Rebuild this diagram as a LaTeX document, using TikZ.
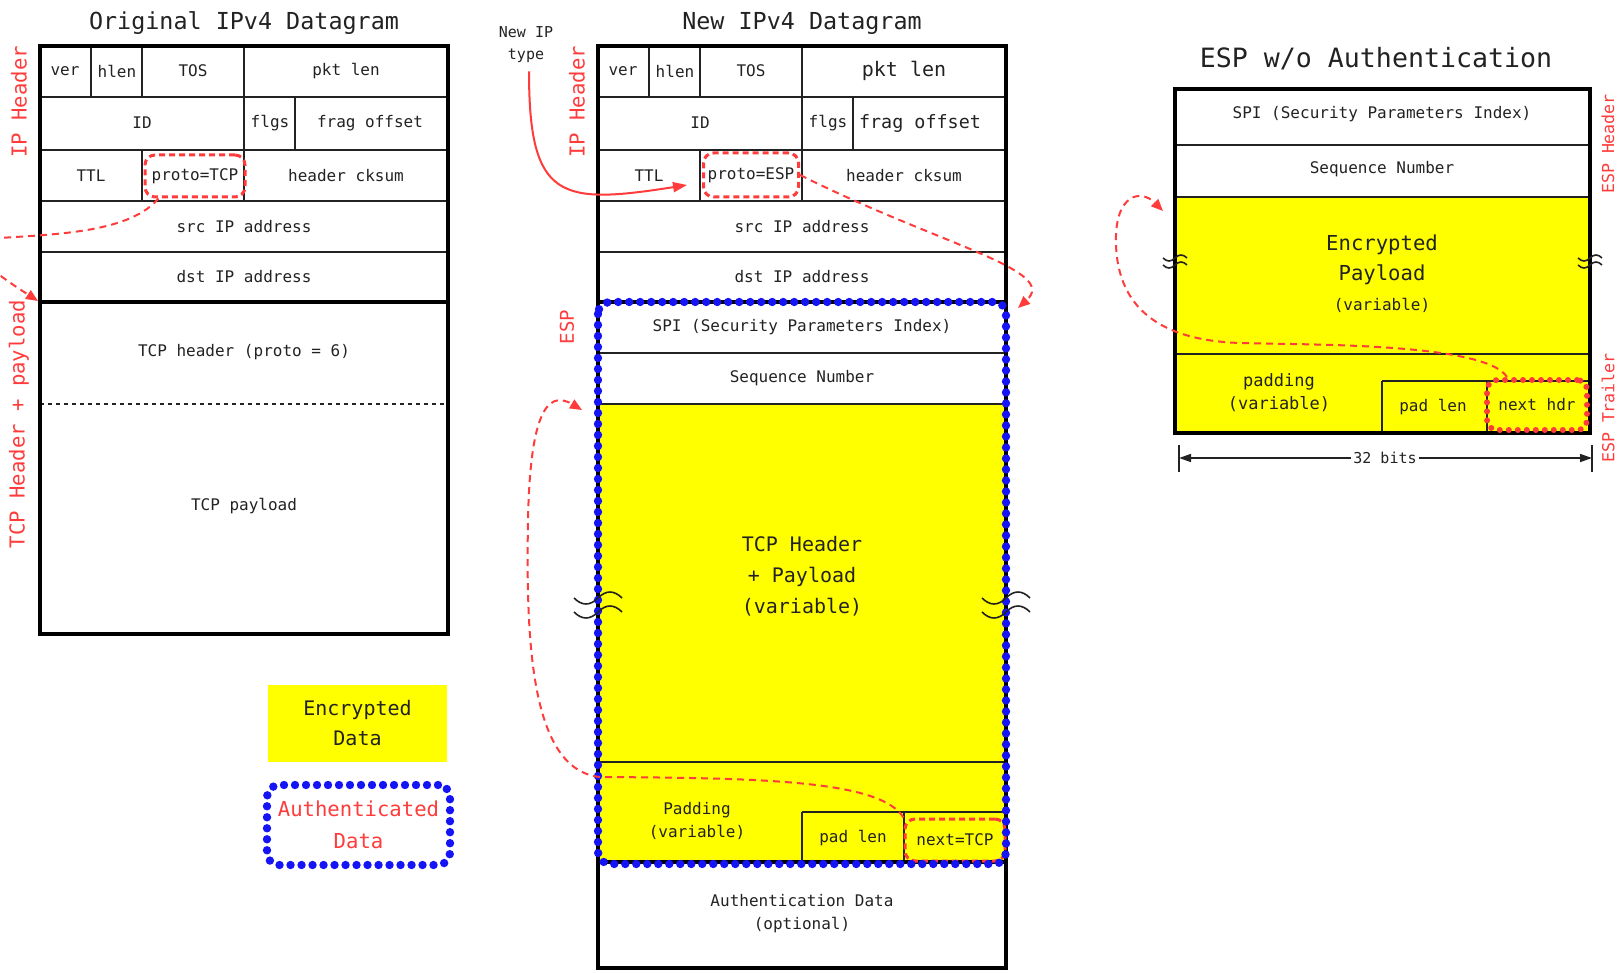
\documentclass[tikz,border=0pt]{standalone}
\usepackage{fontspec}
\setmonofont{DejaVu Sans Mono}
\usepackage{tikz}
\usetikzlibrary{arrows.meta,calc}
\definecolor{encyel}{HTML}{FFFF00}
\definecolor{authblue}{HTML}{1414F5}
\definecolor{markred}{HTML}{FF3B3B}
\definecolor{ink}{HTML}{222222}
\tikzset{
  field/.style    = {font=\ttfamily\fontsize{8}{11.5}\selectfont, text=ink, align=center, inner sep=0pt},
  bigfield/.style = {font=\ttfamily\fontsize{10}{15.5}\selectfont, text=ink, align=center, inner sep=0pt},
  ttl/.style      = {font=\ttfamily\fontsize{11.7}{14}\selectfont, text=ink, inner sep=0pt},
  side/.style     = {font=\ttfamily\fontsize{10.3}{12}\selectfont, text=markred, rotate=90, inner sep=0pt},
  frame/.style    = {draw=black, line width=2.2pt},
  sep/.style      = {draw=ink, line width=1pt},
  protobox/.style = {draw=markred, line width=1.5pt, dash pattern=on 3pt off 2pt, rounded corners=5pt},
  reddots/.style  = {draw=markred, line width=3pt, line cap=round, dash pattern=on 0pt off 4.5pt, rounded corners=5pt},
  authdots/.style = {draw=authblue, line width=4.2pt, line cap=round, dash pattern=on 0pt off 5.5pt, rounded corners=6pt},
  link/.style     = {draw=markred, line width=1pt, dash pattern=on 3.5pt off 2.5pt, -{Triangle[length=6pt,width=5pt]}},
  redarrow/.style = {draw=markred, line width=1pt, -{Triangle[length=7pt,width=5pt]}},
  squig/.style    = {draw=ink, line width=0.8pt},
}

\begin{document}
\begin{tikzpicture}[x=0.5pt, y=-0.5pt]
  \useasboundingbox (0,0) rectangle (1623,973);

  \node[ttl] (t-orig) at (244,23) {Original IPv4 Datagram};
  \node[ttl] (t-new) at (802,23) {New IPv4 Datagram};
  \node[ttl, font=\ttfamily\fontsize{13.3}{15}\selectfont] (t-esp) at (1376,59) {ESP w/o Authentication};

  % encrypted parts
  \fill[encyel] (598,404) rectangle (1006,862);
  \fill[encyel] (1175,197) rectangle (1590,433);

  % IP header, old and new datagram
  \foreach \ox/\hf/\bx/\fx/\fz in {0/field/o/370/8, 558/bigfield/n/362/9.2} {
    \foreach \y in {97,150,201,252} \draw[sep] ({40+\ox},\y) -- ({448+\ox},\y);
    \foreach \vx/\ya/\yb in {91/46/97, 142/46/97, 244/46/97, 244/97/150, 295/97/150, 142/150/201, 244/150/201}
      \draw[sep] ({\vx+\ox},\ya) -- ({\vx+\ox},\yb);
    \draw[frame] ({40+\ox},302) -- ({448+\ox},302);
    \node[field] (\bx-ver) at ({65+\ox},71) {ver};
    \node[field] (\bx-hlen) at ({117+\ox},71) {hlen};
    \node[field] (\bx-tos) at ({193+\ox},71) {TOS};
    \node[\hf] (\bx-len) at ({346+\ox},71) {pkt len};
    \node[field] (\bx-id) at ({142+\ox},123) {ID};
    \node[field] (\bx-flg) at ({270+\ox},123) {flgs};
    \node[field, font=\ttfamily\fontsize{\fz}{12}\selectfont] (\bx-frag) at ({\fx+\ox},123) {frag offset};
    \node[field] (\bx-ttl) at ({91+\ox},176) {TTL};
    \node[field] (\bx-sum) at ({346+\ox},176) {header cksum};
    \node[field] (\bx-src) at ({244+\ox},227) {src IP address};
    \node[field] (\bx-dst) at ({244+\ox},277) {dst IP address};
    \node[side] (\bx-iphdr) at ({19+\ox},102) {IP Header};
  }

  % original datagram
  \draw[sep, line width=0.6pt, dash pattern=on 2pt off 2pt] (40,404) -- (448,404);
  \node[field] (o-tcph) at (244,352) {TCP header (proto = 6)};
  \node[field] (o-tcpp) at (244,506) {TCP payload};
  \node[side] (o-tcplbl) at (19,424) {TCP Header + payload};
  \draw[frame] (40,46) rectangle (448,634);
  \node[field, protobox, minimum width=50pt, minimum height=21pt] (ptcp) at (195,176) {proto=TCP};

  % new datagram, ESP part
  \foreach \y in {353,404,762} \draw[sep] (598,\y) -- (1006,\y);
  \draw[sep] (802,812) -- (1006,812);
  \foreach \vx in {802,904} \draw[sep] (\vx,812) -- (\vx,862);
  \draw[frame] (598,862) -- (1006,862);
  \draw[frame] (598,46) rectangle (1006,968);
  \node[field] (n-spi) at (802,327) {SPI (Security Parameters Index)};
  \node[field] (n-seq) at (802,378) {Sequence Number};
  \node[bigfield] (n-pay) at (802,576) {TCP Header\\+ Payload\\(variable)};
  \node[field] (n-pad) at (697,821) {Padding\\(variable)};
  \node[field] (n-padlen) at (853,838) {pad len};
  \node[field, protobox, minimum width=50pt, minimum height=21pt] (ntcp) at (955,840) {next=TCP};
  \node[field] (n-auth) at (802,914) {Authentication Data\\(optional)};
  \node[side, font=\ttfamily\fontsize{9.5}{11}\selectfont] (n-esplbl) at (567,327) {ESP};
  \node[field, protobox, minimum width=47.5pt, minimum height=22pt] (pesp) at (751,175) {proto=ESP};
  \draw[authdots] (598,302) rectangle (1006,864);

  \node[field, font=\ttfamily\fontsize{7.5}{11}\selectfont] (newip) at (526,45) {New IP\\type};
  \coordinate (esp-tip) at (687,185);
  \draw[redarrow] ($(newip.south)+(3,8)$) .. controls (529,200) and (560,205) .. (esp-tip);

  % ESP without authentication
  \foreach \y in {145,197,354} \draw[sep] (1175,\y) -- (1590,\y);
  \draw[sep] (1382,381) -- (1590,381);
  \foreach \vx in {1382,1487} \draw[sep] (\vx,381) -- (\vx,433);
  \draw[frame] (1175,89) rectangle (1590,433);
  \node[field] (r-spi) at (1382,114) {SPI (Security Parameters Index)};
  \node[field] (r-seq) at (1382,169) {Sequence Number};
  \node[bigfield, font=\ttfamily\fontsize{10.3}{15}\selectfont] (r-pay) at (1382,274)
    {Encrypted\\Payload\\{\fontsize{8}{11}\selectfont (variable)}};
  \node[field, font=\ttfamily\fontsize{8.5}{11.5}\selectfont] (r-pad) at (1279,393) {padding\\(variable)};
  \node[field] (r-padlen) at (1433,407) {pad len};
  \node[field, reddots, minimum width=50pt, minimum height=25pt] (nhdr) at (1537,405) {next hdr};
  \node[side, font=\ttfamily\fontsize{8.3}{10}\selectfont] (r-hdrlbl) at (1608,144) {ESP Header};
  \node[side, font=\ttfamily\fontsize{8.3}{10}\selectfont] (r-trllbl) at (1608,408) {ESP Trailer};

  \coordinate (w-l) at (1179,458);
  \coordinate (w-r) at (1592,458);
  \draw[sep] (1179,445) -- (1179,472);
  \draw[sep] (1592,445) -- (1592,472);
  \draw[draw=ink, line width=0.8pt, {Triangle[length=6pt,width=4pt]}-{Triangle[length=6pt,width=4pt]}] (w-l) -- (w-r);
  \node[field, fill=white, inner sep=1pt, font=\ttfamily\fontsize{7.5}{9}\selectfont] (w-lbl) at (1385,458) {32 bits};

  % breaks in variable-length fields
  \foreach \bx/\by/\bs in {598/598/1, 1006/598/1, 1175/258/0.5, 1590/258/0.5} {
    \begin{scope}[shift={(\bx,\by)}, scale=\bs]
      \foreach \k in {0,14}
        \draw[squig] (-24,\k) .. controls (-16,\k+8) and (-8,\k+8) .. (0,\k) .. controls (8,\k-8) and (16,\k-8) .. (24,\k);
    \end{scope}
  }

  % next-header links
  \coordinate (lft-tip) at (38,301);
  \draw[link] ($(ptcp.south west)+(15,0)$) .. controls (130,232) and (60,234) .. (0,238) .. controls (-45,245) and (-10,270) .. (lft-tip);
  \coordinate (esp-in) at (1018,308);
  \draw[link] (pesp.east) .. controls (940,245) and (1060,270) .. (esp-in);
  \coordinate (pay-in) at (582,410);
  \draw[link] (ntcp.north west) .. controls (880,780) and (760,778) .. (600,777)
    .. controls (530,770) and (526,640) .. (528,520) .. controls (530,420) and (545,388) .. (pay-in);
  \coordinate (enc-in) at (1163,211);
  \draw[link] ($(nhdr.north west)+(23,0)$) .. controls (1485,342) and (1300,345) .. (1240,343)
    .. controls (1150,340) and (1118,300) .. (1116,245) .. controls (1114,195) and (1140,188) .. (enc-in);

  % legend
  \node[field, fill=encyel, minimum width=89.5pt, minimum height=38.5pt, font=\ttfamily\fontsize{10}{15}\selectfont] (leg-enc) at (357.5,723.5) {Encrypted\\Data};
  \node[field, authdots, text=markred, minimum width=91.5pt, minimum height=40pt, font=\ttfamily\fontsize{10.3}{16}\selectfont] (leg-auth) at (358.5,825) {Authenticated\\Data};
\end{tikzpicture}
\end{document}
